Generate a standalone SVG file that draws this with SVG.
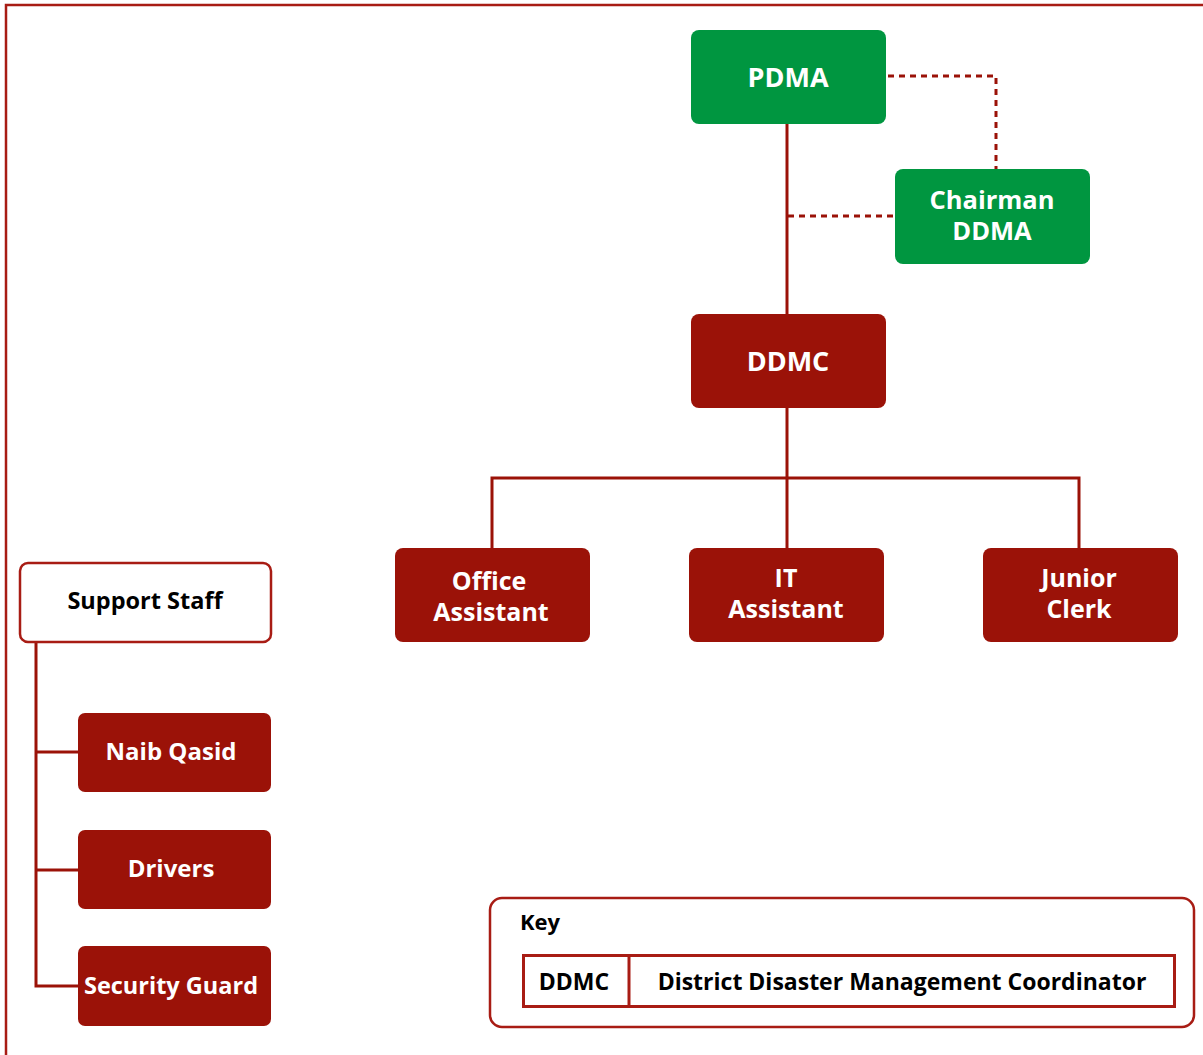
<svg xmlns="http://www.w3.org/2000/svg" width="1203" height="1055" viewBox="0 0 1203 1055">
<style>
.t{font-family:"Open Sans","Noto Sans","Liberation Sans",sans-serif;font-weight:700;text-anchor:middle;}
.w{fill:#ffffff;}
.k{fill:#000000;}
.g{fill:#009640;}
.r{fill:#9b1208;}
.line{stroke:#9b1208;stroke-width:3;fill:none;}
.dash{stroke:#9b1208;stroke-width:3;fill:none;stroke-dasharray:6 5;}
</style>
<rect x="6" y="5" width="1210" height="1070" fill="none" stroke="#a81c14" stroke-width="2.5"/>
<g id="connectors">
<path class="line" d="M787 124V314"/>
<path class="dash" d="M888 76H996V169"/>
<path class="dash" d="M788 216H895"/>
<path class="line" d="M787 408V548M492 548V478H1079V548"/>
<path class="line" d="M36 642V986H78M36 752H78M36 870H78"/>
</g>
<g id="pdma"><rect class="g" x="691" y="30" width="195" height="94" rx="8"/><text class="t w" x="788" y="87" font-size="27">PDMA</text></g>
<g id="chairman"><rect class="g" x="895" y="169" width="195" height="95" rx="8"/><text class="t w" x="992" y="209" font-size="25.5">Chairman</text><text class="t w" x="992" y="240" font-size="25.5">DDMA</text></g>
<g id="ddmc"><rect class="r" x="691" y="314" width="195" height="94" rx="8"/><text class="t w" x="788" y="371" font-size="27">DDMC</text></g>
<g id="office"><rect class="r" x="395" y="548" width="195" height="94" rx="8"/><text class="t w" x="489" y="590" font-size="25">Office</text><text class="t w" x="491" y="621" font-size="25">Assistant</text></g>
<g id="it"><rect class="r" x="689" y="548" width="195" height="94" rx="8"/><text class="t w" x="786" y="587" font-size="25">IT</text><text class="t w" x="786" y="618" font-size="25">Assistant</text></g>
<g id="clerk"><rect class="r" x="983" y="548" width="195" height="94" rx="8"/><text class="t w" x="1079" y="587" font-size="25">Junior</text><text class="t w" x="1079" y="618" font-size="25">Clerk</text></g>
<g id="support"><rect x="20" y="563" width="251" height="79" rx="8" fill="#ffffff" stroke="#a81c14" stroke-width="2.5"/><text class="t k" x="145" y="609" font-size="23.5">Support Staff</text></g>
<g id="naib"><rect class="r" x="78" y="713" width="193" height="79" rx="7"/><text class="t w" x="171" y="760" font-size="24">Naib Qasid</text></g>
<g id="drivers"><rect class="r" x="78" y="830" width="193" height="79" rx="7"/><text class="t w" x="171" y="877" font-size="24">Drivers</text></g>
<g id="security"><rect class="r" x="78" y="946" width="193" height="80" rx="7"/><text class="t w" x="171" y="994" font-size="23.5">Security Guard</text></g>
<g id="key">
<rect x="490" y="898" width="704" height="129" rx="12" fill="#ffffff" stroke="#a81c14" stroke-width="2.5"/>
<text class="t k" x="520" y="930" font-size="22" style="text-anchor:start">Key</text>
<rect x="523.5" y="955.5" width="651" height="51" fill="none" stroke="#a81c14" stroke-width="3"/>
<path d="M629 955V1007" stroke="#a81c14" stroke-width="3"/>
<text class="t k" x="574" y="990" font-size="23">DDMC</text>
<text class="t k" x="902" y="990" font-size="23">District Disaster Management Coordinator</text>
</g>
</svg>
